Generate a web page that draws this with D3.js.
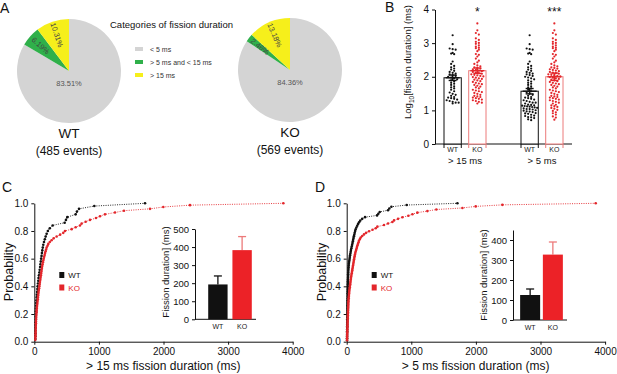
<!DOCTYPE html>
<html>
<head>
<meta charset="utf-8">
<script src="https://cdn.jsdelivr.net/npm/d3@7"></script>
<style>
  body { margin: 0; background: #fff; }
  text { font-family: "Liberation Sans", Arial, sans-serif; }
</style>
</head>
<body>
<svg id="fig" width="617" height="374"></svg>
<script>
/* global d3 */

// ---- data ----
var pieGroups = ["WT", "KO"];
var pieEvents = [485, 569];
var categories = ["< 5 ms", "> 5 ms and < 15 ms", "> 15 ms"];
var piePctWT = [83.51, 6.19, 10.31];
var piePctKO = [84.36, 2.46, 13.18];

// fission durations (ms) of the events longer than 15 ms
var wtOver15 = [16, 17, 17, 18, 19, 20, 21, 22, 23, 24, 25, 27, 29, 31, 34, 37, 41, 45, 48, 52,
    57, 62, 66, 72, 78, 84, 90, 95, 100, 106, 112, 118, 124, 131, 139, 150, 163, 176, 191, 210,
    240, 284, 470, 490, 511, 640, 660, 692, 929, 1714];
var koOver15 = [16, 17, 18, 19, 20, 21, 22, 23, 24, 25, 26, 27, 29, 31, 33, 35, 37, 39, 41, 45,
    48, 51, 54, 57, 60, 63, 66, 70, 74, 78, 82, 86, 90, 94, 98, 102, 106, 110, 114, 118,
    123, 128, 133, 139, 146, 153, 160, 167, 175, 183, 191, 205, 217, 240, 268, 300, 346, 400,
    449, 475, 578, 640, 707, 733, 795, 862, 955, 1017, 1094, 1249, 1388, 1791, 1997, 2410, 3855];
// durations between 5 and 15 ms
var wt5to15 = [5.1, 5.4, 5.9, 6.2, 6.3, 6.8, 7.0, 7.4, 7.9, 8.1, 8.3, 8.9, 9.2, 9.4, 9.8,
    10.1, 10.6, 10.9, 11.0, 11.5, 11.9, 12.2, 12.6, 12.9, 13.1, 13.5, 13.8, 14.2, 14.5, 14.9];
var ko5to15 = [5.3, 6.1, 6.6, 7.5, 8.2, 8.8, 9.6, 10.4, 11.2, 11.8, 12.7, 13.3, 14.0, 14.7];

// panel B summary (log10 ms)
var bGroups = ["> 15 ms", "> 5 ms"];
var bMeanWT = [1.97, 1.57];
var bSemWT = [0.08, 0.08];
var bMeanKO = [2.18, 2.00];
var bSemKO = [0.08, 0.11];
var bStars = ["*", "***"];

// inset bar charts (ms)
var insetCMean = [193, 383];
var insetCSem = [47, 75];
var insetDMean = [125, 327];
var insetDSem = [30, 63];

var cdfTicks = [0, 1000, 2000, 3000, 4000];

var GRAY = "#d4d4d4", GREEN = "#2fb04a", YELLOW = "#f6ef1b";
var RED = "#e3262b", PINK = "#ec7a7a";

var svg = d3.select("#fig");

function label(x, y, txt, size, opts) {
    opts = opts || {};
    return svg.append("text")
        .attr("x", x).attr("y", y)
        .attr("font-size", size)
        .attr("text-anchor", opts.anchor || "start")
        .attr("fill", opts.fill || "#111")
        .attr("transform", opts.rotate ? "rotate(" + opts.rotate + "," + x + "," + y + ")" : null)
        .text(txt);
}

function styleAxis(g, size) {
    g.selectAll("path, line").attr("stroke", "#111");
    g.selectAll("text").attr("font-size", size).attr("fill", "#111")
        .attr("font-family", "Liberation Sans, Arial, sans-serif");
}

// ---- panel letters ----
label(0, 13, "A", 14);
label(385, 12, "B", 14);
label(2, 192, "C", 14);
label(315, 192, "D", 14);

// ---- A: pies ----
var pieColors = [GRAY, GREEN, YELLOW];
var pie = d3.pie().sort(null);
var arc = d3.arc().innerRadius(0).outerRadius(52);

function drawPie(cx, cy, pcts, name, events) {
    var g = svg.append("g").attr("transform", "translate(" + cx + "," + cy + ")");
    var arcs = pie(pcts);
    g.selectAll("path").data(arcs).enter().append("path")
        .attr("d", arc)
        .attr("fill", function (d, i) { return pieColors[i]; });

    arcs.forEach(function (d, i) {
        var txt = d.data.toFixed(2) + "%";
        if (i === 0) {
            g.append("text").attr("x", 0).attr("y", 15).attr("text-anchor", "middle")
                .attr("font-size", 7.5).attr("fill", "#555").text(txt);
            return;
        }
        var a = (d.startAngle + d.endAngle) / 2;
        var r = 38;
        var px = r * Math.sin(a), py = -r * Math.cos(a);
        var rot = a * 180 / Math.PI + 90;
        g.append("text")
            .attr("transform", "translate(" + px + "," + py + ") rotate(" + rot + ")")
            .attr("text-anchor", "middle").attr("dy", "0.35em")
            .attr("font-size", 7.5).attr("fill", "#444").text(txt);
    });

    label(cx, cy + 67, name, 13.5, { anchor: "middle" });
    label(cx, cy + 84, "(" + events + " events)", 12, { anchor: "middle" });
}
drawPie(69, 71, piePctWT, pieGroups[0], pieEvents[0]);
drawPie(290, 70, piePctKO, pieGroups[1], pieEvents[1]);

label(110, 28, "Categories of fission duration", 9.5);
categories.forEach(function (c, i) {
    var y = 49 + i * 13;
    svg.append("rect").attr("x", 135).attr("y", y - 2).attr("width", 8).attr("height", 4)
        .attr("fill", pieColors[i]);
    label(150, y + 2.5, c, 7, { fill: "#333" });
});

// ---- B: log10 duration bars with dots ----
var yB = d3.scaleLinear().domain([0, 4]).range([144, 9.5]);
var xGroup = d3.scalePoint().domain(bGroups).range([465, 542]);
var xGeno = d3.scaleBand().domain(["WT", "KO"]).range([-21, 21]).paddingInner(0.3);

var gBy = svg.append("g").attr("transform", "translate(435,0)")
    .call(d3.axisLeft(yB).ticks(4).tickSize(3).tickSizeOuter(0).tickFormat(d3.format("d")));
styleAxis(gBy, 10);
svg.append("line").attr("x1", 435).attr("x2", 572).attr("y1", yB(0)).attr("y2", yB(0))
    .attr("stroke", "#111");

var yl = svg.append("text").attr("transform", "translate(411,62) rotate(-90)")
    .attr("text-anchor", "middle").attr("font-size", 9.5).attr("fill", "#111");
yl.append("tspan").text("Log");
yl.append("tspan").attr("font-size", 6.5).attr("dy", 2.5).text("10");
yl.append("tspan").attr("dy", -2.5).text("[fission duration] (ms)");

var bSets = [
    { grp: 0, geno: "WT", vals: wtOver15, mean: bMeanWT[0], sem: bSemWT[0] },
    { grp: 0, geno: "KO", vals: koOver15, mean: bMeanKO[0], sem: bSemKO[0] },
    { grp: 1, geno: "WT", vals: wtOver15.concat(wt5to15), mean: bMeanWT[1], sem: bSemWT[1] },
    { grp: 1, geno: "KO", vals: koOver15.concat(ko5to15), mean: bMeanKO[1], sem: bSemKO[1] }
];

bSets.forEach(function (s) {
    var x0 = xGroup(bGroups[s.grp]) + xGeno(s.geno);
    var bw = xGeno.bandwidth();
    var cx = x0 + bw / 2;
    var col = s.geno === "WT" ? "#111" : PINK;
    var dotCol = s.geno === "WT" ? "#111" : RED;

    svg.append("rect").attr("x", x0).attr("y", yB(s.mean))
        .attr("width", bw).attr("height", yB(0) - yB(s.mean))
        .attr("fill", "#fff").attr("stroke", col).attr("stroke-width", 1);
    [x0, x0 + bw].forEach(function (xx) {
        svg.append("line").attr("x1", xx).attr("x2", xx).attr("y1", yB(0)).attr("y2", yB(0) + 4)
            .attr("stroke", col);
    });

    // simple beeswarm: bin by pixel row and spread sideways
    var ys = s.vals.map(function (v) { return yB(Math.log10(v)); }).sort(d3.ascending);
    var bins = d3.groups(ys, function (y) { return Math.round(y / 2.6); });
    bins.forEach(function (b) {
        var pts = b[1], k = pts.length;
        var sp = k > 1 ? Math.min(3, 15 / (k - 1)) : 0;
        pts.forEach(function (y, j) {
            svg.append("circle").attr("cx", cx + (j - (k - 1) / 2) * sp).attr("cy", y)
                .attr("r", 1.1).attr("fill", dotCol);
        });
    });

    var errCol = s.geno === "WT" ? "#111" : RED;
    svg.append("line").attr("x1", cx).attr("x2", cx)
        .attr("y1", yB(s.mean - s.sem)).attr("y2", yB(s.mean + s.sem))
        .attr("stroke", errCol).attr("stroke-width", 1.6);
    [s.mean - s.sem, s.mean + s.sem].forEach(function (v) {
        svg.append("line").attr("x1", cx - 4).attr("x2", cx + 4)
            .attr("y1", yB(v)).attr("y2", yB(v))
            .attr("stroke", errCol).attr("stroke-width", 1.4);
    });
    svg.append("line").attr("x1", cx - 7).attr("x2", cx + 7)
        .attr("y1", yB(s.mean)).attr("y2", yB(s.mean))
        .attr("stroke", errCol).attr("stroke-width", 1.4);

    label(cx, 151.5, s.geno, 7, { anchor: "middle", fill: "#222" });
    if (s.geno === "KO") {
        label(cx, 16, bStars[s.grp], 12, { anchor: "middle" });
    }
});
bGroups.forEach(function (g) {
    label(xGroup(g), 164, g, 9.5, { anchor: "middle" });
});

// ---- C & D: cumulative distributions with inset bars ----
function drawCdf(ox, wt, ko, xTitle, inset) {
    var x = d3.scaleLinear().domain([0, 4000]).range([ox, ox + 258.4]);
    var y = d3.scaleLinear().domain([0, 1]).range([341.7, 203.3]);

    var gx = svg.append("g").attr("transform", "translate(0," + y(0) + ")")
        .call(d3.axisBottom(x).tickValues(cdfTicks).tickSize(3).tickSizeOuter(0).tickFormat(d3.format("d")));
    styleAxis(gx, 10);
    var gy = svg.append("g").attr("transform", "translate(" + ox + ",0)")
        .call(d3.axisLeft(y).ticks(5).tickSize(3).tickSizeOuter(0).tickFormat(d3.format(".1f")));
    styleAxis(gy, 10);

    label(ox - 21, 272, "Probability", 12.5, { anchor: "middle", rotate: -90 });
    label(ox + 129, 370, xTitle, 12, { anchor: "middle" });

    [[wt, "#111"], [ko, RED]].forEach(function (p) {
        var sorted = p[0].slice().sort(d3.ascending);
        var n = sorted.length;
        var pts = sorted.map(function (v, i) { return [v, (i + 1) / n]; });
        svg.append("path").datum(pts)
            .attr("d", d3.line().x(function (d) { return x(d[0]); }).y(function (d) { return y(d[1]); }))
            .attr("fill", "none").attr("stroke", p[1]).attr("stroke-width", 0.9)
            .attr("stroke-dasharray", "1,1.3");
        svg.selectAll(null).data(pts).enter().append("circle")
            .attr("cx", function (d) { return x(d[0]); })
            .attr("cy", function (d) { return y(d[1]); })
            .attr("r", 1.3).attr("fill", p[1]);
    });

    // legend
    var lx = ox + 25;
    svg.append("rect").attr("x", lx).attr("y", 272).attr("width", 5).attr("height", 6).attr("fill", "#111");
    label(lx + 9, 278, "WT", 8, { fill: "#111" });
    svg.append("rect").attr("x", lx).attr("y", 284.5).attr("width", 5).attr("height", 6).attr("fill", RED);
    label(lx + 9, 290.5, "KO", 8, { fill: RED });

    // inset
    var iy = d3.scaleLinear().domain([0, inset.max]).range([inset.y0, inset.yTop]);
    var ix = d3.scaleBand().domain(["WT", "KO"]).range(inset.xr).paddingInner(inset.pad).paddingOuter(0.05);
    var giy = svg.append("g").attr("transform", "translate(" + inset.ax + ",0)")
        .call(d3.axisLeft(iy).tickValues(inset.ticks).tickSize(3).tickSizeOuter(0).tickFormat(d3.format("d")));
    styleAxis(giy, 9.5);
    svg.append("line").attr("x1", inset.ax).attr("x2", inset.xr[1] + 3)
        .attr("y1", iy(0)).attr("y2", iy(0)).attr("stroke", "#111");
    label(inset.ax - 26, inset.labY, "Fission duration] (ms)", 9.5, { anchor: "middle", rotate: -90 });

    ["WT", "KO"].forEach(function (k, i) {
        var bx = ix(k), bw = ix.bandwidth(), cx = bx + bw / 2;
        var m = inset.mean[i], e = inset.sem[i];
        var ec = i === 0 ? "#111" : PINK;
        svg.append("line").attr("x1", cx).attr("x2", cx).attr("y1", iy(m)).attr("y2", iy(m + e))
            .attr("stroke", ec).attr("stroke-width", 1.3);
        svg.append("line").attr("x1", cx - 4).attr("x2", cx + 4).attr("y1", iy(m + e)).attr("y2", iy(m + e))
            .attr("stroke", ec).attr("stroke-width", 1.3);
        svg.append("rect").attr("x", bx).attr("y", iy(m)).attr("width", bw).attr("height", iy(0) - iy(m))
            .attr("fill", i === 0 ? "#111" : "#ec2227");
        label(cx, iy(0) + 10, k, 7, { anchor: "middle", fill: "#222" });
    });
}

drawCdf(34.3, wtOver15, koOver15, "> 15 ms fission duration (ms)", {
    ax: 195, y0: 319.3, yTop: 229, max: 500, ticks: [0, 100, 200, 300, 400, 500],
    xr: [207, 253], pad: 0.2, mean: insetCMean, sem: insetCSem, labY: 272
});
drawCdf(346.7, wtOver15.concat(wt5to15), koOver15.concat(ko5to15), "> 5 ms fission duration (ms)", {
    ax: 513, y0: 320, yTop: 230, max: 450, ticks: [0, 100, 200, 300, 400],
    xr: [519, 564], pad: 0.12, mean: insetDMean, sem: insetDSem, labY: 275
});
</script>
</body>
</html>
